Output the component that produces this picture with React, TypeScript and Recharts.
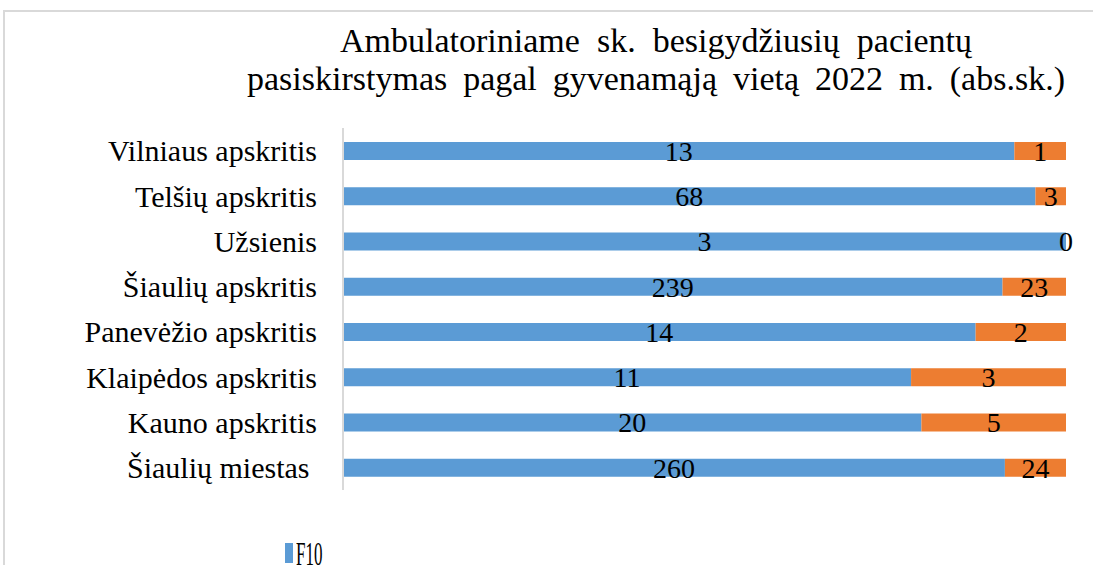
import { Bar, BarChart, LabelList, XAxis, YAxis } from "recharts";

const categories = [
  "Vilniaus apskritis",
  "Telšių apskritis",
  "Užsienis",
  "Šiaulių apskritis",
  "Panevėžio apskritis",
  "Klaipėdos apskritis",
  "Kauno apskritis",
  "Šiaulių miestas\u00a0",
];
const f10 = [13, 68, 3, 239, 14, 11, 20, 260];
const other = [1, 3, 0, 23, 2, 3, 5, 24];
const legendLabel = "F10";

const data = categories.map((name, i) => ({ name, f10: f10[i], other: other[i] }));

const FONT = "Liberation Serif";
const BLUE = "#5B9BD5";
const ORANGE = "#ED7D31";

// a zero segment has no width and recharts skips its label,
// so it is drawn from the blue bar, at its right end
function ZeroLabel(props: any) {
  const { x, y, width, height, value } = props;
  if (value !== 0) return null;
  return (
    <text x={x + width} y={y + height / 2} textAnchor="middle" dominantBaseline="central" fontSize={28} fontFamily={FONT} fill="#000">
      {value}
    </text>
  );
}

const titleLine = {
  position: "absolute" as const,
  fontFamily: FONT,
  fontSize: 34,
  lineHeight: "38px",
  color: "#000",
  textAlign: "justify" as const,
  textAlignLast: "justify" as const,
};

export default function App() {
  return (
    <div style={{ position: "fixed", left: 0, top: 0, width: 1093, height: 565, background: "#fff", overflow: "hidden", fontFamily: FONT }}>
      <div
        style={{
          position: "absolute",
          left: 3,
          top: 10,
          width: 1200,
          height: 600,
          border: "2px solid #d9d9d9",
        }}
      />
      <div style={{ ...titleLine, left: 340, top: 22, width: 632 }}>
        Ambulatoriniame sk. besigydžiusių pacientų
      </div>
      <div style={{ ...titleLine, left: 247, top: 60, width: 818 }}>
        pasiskirstymas pagal gyvenamąją vietą 2022 m. (abs.sk.)
      </div>
      <div style={{ position: "absolute", left: 0, top: 0 }}>
        <BarChart
          width={1093}
          height={565}
          data={data}
          layout="vertical"
          stackOffset="expand"
          barSize={18}
          margin={{ top: 128, right: 27, bottom: 75, left: 0 }}
          style={{ fontFamily: FONT }}
        >
          <XAxis type="number" hide domain={[0, 1]} />
          <YAxis
            type="category"
            dataKey="name"
            width={343}
            tickLine={false}
            axisLine={{ stroke: "#d9d9d9", strokeWidth: 2 }}
            tickMargin={20}
            tick={{ fill: "#000", fontSize: 30, fontFamily: FONT }}
          />
          <Bar dataKey="f10" stackId="a" fill={BLUE} isAnimationActive={false}>
            <LabelList dataKey="f10" position="center" fill="#000" fontSize={28} fontFamily={FONT} />
            <LabelList dataKey="other" content={ZeroLabel} />
          </Bar>
          <Bar dataKey="other" stackId="a" fill={ORANGE} isAnimationActive={false}>
            <LabelList dataKey="other" position="center" fill="#000" fontSize={28} fontFamily={FONT} />
          </Bar>
        </BarChart>
      </div>
      <div style={{ position: "absolute", left: 285, top: 537, display: "flex", alignItems: "flex-start" }}>
        <span style={{ width: 8, height: 20, marginTop: 6, background: BLUE, display: "inline-block" }} />
        <span
          style={{
            fontSize: 34,
            lineHeight: "34px",
            display: "inline-block",
            transform: "scaleX(0.5)",
            transformOrigin: "left top",
            marginLeft: 3,
          }}
        >
          {legendLabel}
        </span>
      </div>
    </div>
  );
}
